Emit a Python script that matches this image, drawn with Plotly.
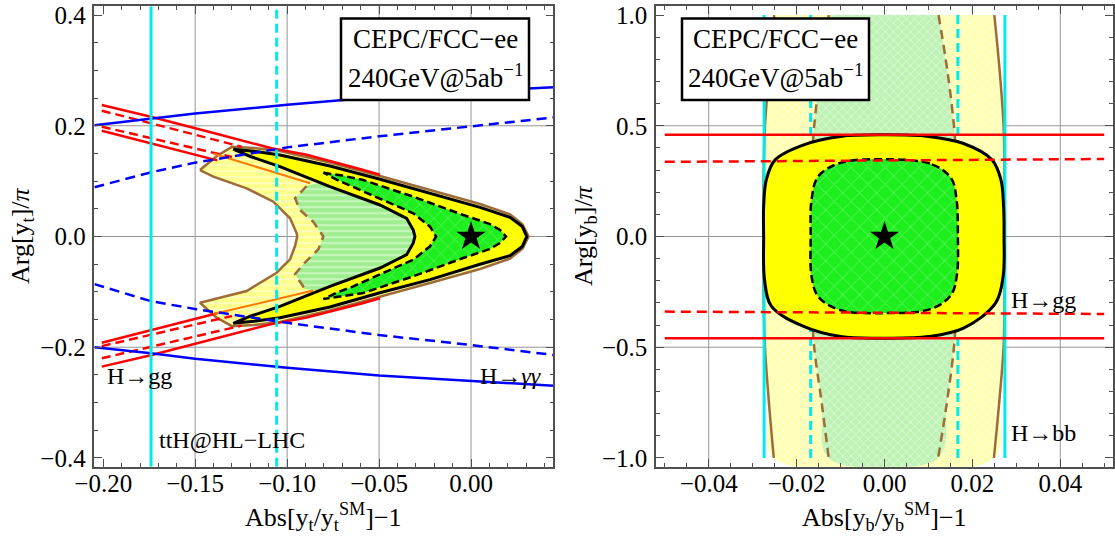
import plotly.graph_objects as go

# ======================= LEFT PANEL (top Yukawa) =======================
# ttH @ HL-LHC (cyan vertical lines)
tth_solid_x = -0.174
tth_dash_x = -0.1057

# H -> gamma gamma (blue)
aa_x = [-0.2048, -0.174, -0.15, -0.10, -0.05, 0.0, 0.0448]
aa_solid_up = [0.201, 0.2135, 0.222, 0.238, 0.252, 0.262, 0.2695]
aa_solid_dn = [-0.200, -0.211, -0.221, -0.237, -0.251, -0.261, -0.2696]
aa_dash_up = [0.089, 0.116, 0.1334, 0.161, 0.181, 0.199, 0.215]
aa_dash_dn = [-0.086, -0.117, -0.131, -0.156, -0.178, -0.196, -0.214]

# H -> gg (red), outer solid / dashed / dashed / inner solid
gg_a_up_x = [-0.2008, -0.1736, -0.1400, -0.1084, -0.0900, -0.0767, -0.0600, -0.0495]
gg_a_up_y = [0.2376, 0.216, 0.187, 0.1593, 0.148, 0.1365, 0.1215, 0.1115]
gg_b_up_x = [-0.2008, -0.1736, -0.1400, -0.1247]
gg_b_up_y = [0.2273, 0.2045, 0.176, 0.1622]
gg_c_up_x = [-0.2008, -0.1736, -0.1374, -0.1300]
gg_c_up_y = [0.1984, 0.177, 0.149, 0.1435]
gg_d_up_x = [-0.2008, -0.1736, -0.1410, -0.1380]
gg_d_up_y = [0.1911, 0.168, 0.140, 0.1375]
gg_a_dn_x = [-0.2008, -0.1736, -0.1400, -0.1084, -0.0900, -0.0767, -0.0600, -0.0495]
gg_a_dn_y = [-0.2350, -0.2140, -0.1850, -0.1580, -0.1470, -0.1360, -0.1215, -0.1115]
gg_b_dn_x = [-0.2008, -0.1736, -0.1400, -0.1247]
gg_b_dn_y = [-0.2200, -0.1990, -0.1730, -0.1610]
gg_c_dn_x = [-0.2008, -0.1736, -0.1374, -0.1300]
gg_c_dn_y = [-0.1980, -0.1770, -0.1490, -0.1435]
gg_d_dn_x = [-0.2008, -0.1736, -0.1410, -0.1380]
gg_d_dn_y = [-0.1918, -0.1690, -0.1410, -0.1385]
orange_up_x = [-0.1400, -0.1347, -0.0875]
orange_up_y = [0.1495, 0.1442, 0.0961]
orange_dn_x = [-0.1401, -0.0858]
orange_dn_y = [-0.1400, -0.0975]

# Combined fit, pale region (brown solid contour)
pale_y_x = [-0.1474, -0.1380, -0.1300, -0.1180, -0.1039, -0.0767, -0.0495, -0.0223, 0.0049, 0.0212, 0.0280, 0.0313,
            0.0280, 0.0212, 0.0049, -0.0223, -0.0495, -0.0767, -0.1039, -0.1180, -0.1300, -0.1383, -0.1474,
            -0.1220, -0.1057, -0.0984, -0.0957, -0.0945,
            -0.0948, -0.0984, -0.1075, -0.1220, -0.1401, -0.1474]
pale_y_y = [0.120, 0.146, 0.162, 0.160, 0.1545, 0.1334, 0.1093, 0.0840, 0.0587, 0.0400, 0.0220, 0.0,
            -0.0220, -0.0400, -0.0587, -0.0840, -0.1093, -0.1334, -0.1545, -0.1600, -0.1620, -0.1467, -0.1196,
            -0.0985, -0.0654, -0.0412, -0.0172, 0.0,
            0.0058, 0.0329, 0.0629, 0.0870, 0.1080, 0.120]
# pale region (brown dashed contour); the dashed part is the visible left edge
pale_g_x = [-0.0894, -0.0957, -0.0930, -0.0858, -0.0803, -0.0830, -0.0912, -0.0957, -0.0903,
            -0.0800, -0.0500, -0.0200, 0.0000, 0.0100, 0.0000, -0.0200, -0.0500, -0.0800, -0.0894]
pale_g_y = [0.0912, 0.0690, 0.0479, 0.0267, 0.0, -0.0230, -0.0500, -0.0680, -0.0950,
            -0.1000, -0.0800, -0.0500, -0.0300, 0.0, 0.0300, 0.0500, 0.0800, 0.1000, 0.0912]
brown_dash_x = pale_g_x[:9]
brown_dash_y = pale_g_y[:9]

# CEPC/FCC-ee 95% (black solid, yellow) and 68% (black dashed, green)
c95_x = [-0.1293, -0.1180, -0.1039, -0.0767, -0.0495, -0.0223, 0.0049, 0.0212, 0.0279, 0.0303,
         0.0279, 0.0212, 0.0049, -0.0223, -0.0495, -0.0767, -0.1039, -0.1180, -0.1293,
         -0.1200, -0.1039, -0.0767, -0.0495, -0.0350, -0.0314, -0.0305,
         -0.0314, -0.0350, -0.0495, -0.0767, -0.1039, -0.1200, -0.1293]
c95_y = [0.1578, 0.1540, 0.1472, 0.1274, 0.1033, 0.0780, 0.0527, 0.0347, 0.0180, 0.0,
         -0.0180, -0.0347, -0.0502, -0.0780, -0.1015, -0.1274, -0.1467, -0.1530, -0.1568,
         -0.1440, -0.1261, -0.0900, -0.0569, -0.0329, -0.0117, 0.0,
         0.0117, 0.0329, 0.0569, 0.0900, 0.1261, 0.1445, 0.1578]
c68_x = [-0.0803, -0.0700, -0.0586, -0.0314, -0.0042, 0.0100, 0.0158, 0.0190,
         0.0158, 0.0100, -0.0042, -0.0314, -0.0586, -0.0700, -0.0803,
         -0.0720, -0.0640, -0.0458, -0.0314, -0.0223, -0.0190,
         -0.0223, -0.0314, -0.0458, -0.0640, -0.0720, -0.0803]
c68_y = [0.1153, 0.1100, 0.1020, 0.0719, 0.0388, 0.0230, 0.0117, 0.0,
         -0.0117, -0.0230, -0.0388, -0.0719, -0.1020, -0.1080, -0.1130,
         -0.1000, -0.0900, -0.0629, -0.0419, -0.0177, 0.0,
         0.0177, 0.0419, 0.0629, 0.0900, 0.1010, 0.1153]

# ======================= RIGHT PANEL (bottom Yukawa) =======================
hbb_solid_x = [-0.0274, 0.0274]
hbb_dash_x = [-0.0168, 0.0167]
band_y = [1.0, 0.75, 0.5, 0.3, 0.0, -0.3, -0.5, -0.75, -1.0]
bsol_left_x = [-0.0251, -0.0262, -0.0272, -0.0275, -0.0275, -0.0275, -0.0272, -0.0263, -0.0252]
bsol_right_x = [0.0250, 0.0262, 0.0271, 0.0273, 0.0273, 0.0273, 0.0271, 0.0261, 0.0249]
bdash_left_x = [-0.0127, -0.0145, -0.0160, -0.0166, -0.0168, -0.0166, -0.0160, -0.0143, -0.0127]
bdash_right_x = [0.0123, 0.0143, 0.0158, 0.0164, 0.0166, 0.0164, 0.0158, 0.0142, 0.0122]

ggb_x = [-0.05, 0.05]
ggb_solid_up = [0.459, 0.459]
ggb_dash_up = [0.337, 0.350]
ggb_dash_dn = [-0.339, -0.350]
ggb_solid_dn = [-0.459, -0.459]

b95_x = [0.0, 0.0100, 0.0180, 0.0245, 0.0265, 0.0271, 0.0272, 0.0270, 0.0253, 0.0180, 0.0100, 0.0,
         -0.0100, -0.0184, -0.0257, -0.0273, -0.0275, -0.0275, -0.0269, -0.0249, -0.0184, -0.0100, 0.0]
b95_y = [0.459, 0.452, 0.420, 0.346, 0.256, 0.135, 0.0, -0.180, -0.300, -0.414, -0.452, -0.459,
         -0.452, -0.406, -0.316, -0.195, 0.0, 0.135, 0.256, 0.346, 0.414, 0.452, 0.459]
b68_x = [0.0, 0.0108, 0.0152, 0.0164, 0.0167, 0.0165, 0.0152, 0.0108, 0.0,
         -0.0103, -0.0151, -0.0166, -0.0168, -0.0166, -0.0151, -0.0103, 0.0]
b68_y = [0.349, 0.326, 0.262, 0.166, 0.0, -0.170, -0.262, -0.326, -0.346,
         -0.331, -0.271, -0.180, 0.0, 0.166, 0.271, 0.331, 0.349]

sm_point = [0.0, 0.0]

grid_left_x = [-0.15, -0.10, -0.05, 0.00]
grid_left_y = [-0.2, 0.0, 0.2]
grid_right_x = [-0.04, -0.02, 0.0, 0.02, 0.04]
grid_right_y = [-0.5, 0.0, 0.5]

# ---------------------------------------------------------------------------
RED = 'rgb(255,0,0)'
BLUE = 'rgb(0,0,255)'
CYAN = 'rgb(0,235,235)'
BROWN = 'rgb(158,108,56)'
ORANGE = 'rgb(255,120,0)'
BLACK = 'black'
FONT = 'Liberation Serif'
GREEN = 'rgb(30,238,30)'

fig = go.Figure()


def line(x, y, color, width, dash=None, xa='x', ya='y', shape='linear'):
    fig.add_trace(go.Scatter(x=x, y=y, mode='lines', xaxis=xa, yaxis=ya,
                             line=dict(color=color, width=width, dash=dash, shape=shape),
                             hoverinfo='skip', showlegend=False))


def area(x, y, fill, pat_shape, pat_fg, lcolor=None, lwidth=0, dash=None, xa='x', ya='y', shape='linear',
         pat_size=6, pat_sol=0.25, pat_op=0.55):
    fp = None
    if pat_shape:
        fp = dict(shape=pat_shape, bgcolor=fill, fgcolor=pat_fg, fgopacity=pat_op, size=pat_size, solidity=pat_sol)
    fig.add_trace(go.Scatter(x=x, y=y, mode='lines', fill='toself', fillcolor=fill, fillpattern=fp,
                             xaxis=xa, yaxis=ya,
                             line=dict(color=lcolor if lcolor else 'rgba(0,0,0,0)', width=lwidth,
                                       dash=dash, shape=shape),
                             hoverinfo='skip', showlegend=False))


# ---------------- left panel traces ----------------
area(pale_y_x, pale_y_y, 'rgb(255,255,140)', '-', 'white', BROWN, 2.5)
area(pale_g_x, pale_g_y, 'rgb(160,238,145)', '-', 'white')
line(brown_dash_x, brown_dash_y, BROWN, 2.5, '9px,6px')
for xs, ys, d in [(gg_a_up_x, gg_a_up_y, None), (gg_b_up_x, gg_b_up_y, '9px,5px'),
                  (gg_c_up_x, gg_c_up_y, '9px,5px'), (gg_d_up_x, gg_d_up_y, None),
                  (gg_a_dn_x, gg_a_dn_y, None), (gg_b_dn_x, gg_b_dn_y, '9px,5px'),
                  (gg_c_dn_x, gg_c_dn_y, '9px,5px'), (gg_d_dn_x, gg_d_dn_y, None)]:
    line(xs, ys, RED, 2.5, d)
line(orange_up_x, orange_up_y, ORANGE, 2)
line(orange_dn_x, orange_dn_y, ORANGE, 2)
area(c95_x, c95_y, 'rgb(255,255,0)', None, None, BLACK, 3)
area(c68_x, c68_y, GREEN, 'x', 'rgb(150,255,150)', BLACK, 2.5, '8px,4px', pat_size=10, pat_sol=0.12, pat_op=0.6)
line(aa_x, aa_solid_up, BLUE, 2.5)
line(aa_x, aa_solid_dn, BLUE, 2.5)
line(aa_x, aa_dash_up, BLUE, 2.5, '10px,6px')
line(aa_x, aa_dash_dn, BLUE, 2.5, '10px,6px')
line([tth_solid_x, tth_solid_x], [-0.416, 0.416], CYAN, 3)
line([tth_dash_x, tth_dash_x], [-0.416, 0.416], CYAN, 3, '9px,5px')
fig.add_trace(go.Scatter(x=[sm_point[0]], y=[sm_point[1]], mode='markers', xaxis='x', yaxis='y',
                         marker=dict(symbol='star', size=22, color='black'), showlegend=False, hoverinfo='skip'))

# ---------------- right panel traces ----------------
area(bsol_left_x + bsol_right_x[::-1], band_y + band_y[::-1], 'rgb(255,255,180)', 'x', 'white',
     xa='x2', ya='y2', shape='spline')
area(bdash_left_x + bdash_right_x[::-1], band_y + band_y[::-1], 'rgb(190,242,180)', 'x', 'white',
     xa='x2', ya='y2', shape='spline')
line(bsol_left_x, band_y, BROWN, 2.5, xa='x2', ya='y2', shape='spline')
line(bsol_right_x, band_y, BROWN, 2.5, xa='x2', ya='y2', shape='spline')
line(bdash_left_x, band_y, BROWN, 2.5, '9px,6px', xa='x2', ya='y2', shape='spline')
line(bdash_right_x, band_y, BROWN, 2.5, '9px,6px', xa='x2', ya='y2', shape='spline')
for cx in hbb_solid_x:
    line([cx, cx], [-1.0, 1.0], CYAN, 3, xa='x2', ya='y2')
for cx in hbb_dash_x:
    line([cx, cx], [-1.0, 1.0], CYAN, 3, '9px,5px', xa='x2', ya='y2')
area(b95_x, b95_y, 'rgb(255,255,0)', None, None, BLACK, 3, xa='x2', ya='y2', shape='spline')
area(b68_x, b68_y, GREEN, 'x', 'rgb(150,255,150)', BLACK, 2.5, '8px,4px', xa='x2', ya='y2', shape='spline',
     pat_size=12, pat_sol=0.12, pat_op=0.6)
line(ggb_x, ggb_solid_up, RED, 2.5, xa='x2', ya='y2')
line(ggb_x, ggb_solid_dn, RED, 2.5, xa='x2', ya='y2')
line(ggb_x, ggb_dash_up, RED, 2.5, '10px,6px', xa='x2', ya='y2')
line(ggb_x, ggb_dash_dn, RED, 2.5, '10px,6px', xa='x2', ya='y2')
fig.add_trace(go.Scatter(x=[sm_point[0]], y=[sm_point[1]], mode='markers', xaxis='x2', yaxis='y2',
                         marker=dict(symbol='star', size=22, color='black'), showlegend=False, hoverinfo='skip'))

# ---------------- axes ----------------
FRAME = 'rgb(80,80,80)'


def axis(rng, dtick, fmt, minor, domain, anchor, standoff):
    return dict(range=rng, dtick=dtick, tick0=0, tickformat=fmt, domain=domain, anchor=anchor,
                automargin=False, ticklabelstandoff=standoff,
                showline=True, linecolor=FRAME, linewidth=1.5, mirror='allticks',
                ticks='inside', ticklen=8, tickwidth=1.2, tickcolor=FRAME,
                showgrid=False, zeroline=False,
                minor=dict(dtick=minor, ticks='inside', ticklen=4, tickwidth=1, tickcolor=FRAME, showgrid=False),
                tickfont=dict(family=FONT, size=25, color='black'))


ydom = [73.2 / 540, 533.8 / 540]
fig.update_layout(
    width=1115, height=540, autosize=False,
    margin=dict(l=0, r=0, t=0, b=0, pad=0, autoexpand=False),
    paper_bgcolor='white', plot_bgcolor='white',
    showlegend=False,
    xaxis=axis([-0.2048, 0.0448], 0.05, '.2f', 0.01, [94.4 / 1115, 553.4 / 1115], 'y', -7),
    yaxis=axis([-0.416, 0.416], 0.2, '.1f', 0.05, ydom, 'x', 2),
    xaxis2=axis([-0.052, 0.052], 0.02, '.2f', 0.005, [656 / 1115, 1113 / 1115], 'y2', -7),
    yaxis2=axis([-1.04, 1.04], 0.5, '.1f', 0.1, ydom, 'x2', 2),
)

shapes = []
GRID = 'rgb(150,150,150)'
for gx in grid_left_x:
    shapes.append(dict(type='line', xref='x', yref='y domain', x0=gx, x1=gx, y0=0, y1=1,
                       line=dict(color=GRID, width=1), layer='below'))
for gy in grid_left_y:
    shapes.append(dict(type='line', xref='x domain', yref='y', x0=0, x1=1, y0=gy, y1=gy,
                       line=dict(color=GRID, width=1), layer='below'))
for gx in grid_right_x:
    shapes.append(dict(type='line', xref='x2', yref='y2 domain', x0=gx, x1=gx, y0=0, y1=1,
                       line=dict(color=GRID, width=1), layer='below'))
for gy in grid_right_y:
    shapes.append(dict(type='line', xref='x2 domain', yref='y2', x0=0, x1=1, y0=gy, y1=gy,
                       line=dict(color=GRID, width=1), layer='below'))
# legend boxes
for bx0, bx1 in [(341, 529), (682, 869)]:
    shapes.append(dict(type='rect', xref='paper', yref='paper', x0=bx0 / 1115, x1=bx1 / 1115,
                       y0=1 - 100 / 540, y1=1 - 18.5 / 540, line=dict(color='black', width=2.5),
                       fillcolor='white', layer='above'))
fig.update_layout(shapes=shapes)

ann = []


def text(x, y, s, size, xref='paper', yref='paper', angle=0):
    ann.append(dict(x=x, y=y, xref=xref, yref=yref, text=s, showarrow=False, textangle=angle,
                    xanchor='center', yanchor='middle', font=dict(family=FONT, size=size, color='black')))


for cx in [435 / 1115, 775.5 / 1115]:
    text(cx, 1 - 39 / 540, 'CEPC/FCC\u2212ee', 27)
    text(cx, 1 - 76 / 540, '240GeV@5ab<sup>\u22121</sup>', 27)

text(324 / 1115, 1 - 517 / 540, 'Abs[y<sub>t</sub>/y<sub>t</sub><sup>SM</sup>]\u22121', 26)
text(884.5 / 1115, 1 - 517 / 540, 'Abs[y<sub>b</sub>/y<sub>b</sub><sup>SM</sup>]\u22121', 26)
text(22 / 1115, 1 - 236 / 540, 'Arg[y<sub>t</sub>]/<i>\u03c0</i>', 26, angle=-90)
text(585 / 1115, 1 - 236 / 540, 'Arg[y<sub>b</sub>]/<i>\u03c0</i>', 26, angle=-90)

text(-0.1805, -0.252, 'H\u2192gg', 24, 'x', 'y')
text(0.0216, -0.252, 'H\u2192<i>\u03b3\u03b3</i>', 24, 'x', 'y')
text(-0.130, -0.3677, 'ttH@HL\u2212LHC', 24, 'x', 'y')
text(0.0361, -0.2855, 'H\u2192gg', 24, 'x2', 'y2')
text(0.0361, -0.8877, 'H\u2192bb', 24, 'x2', 'y2')
fig.update_layout(annotations=ann)

fig.write_html("out.html", config={'displayModeBar': False},
               post_script="document.body.style.margin='0';document.body.style.overflow='hidden';")
